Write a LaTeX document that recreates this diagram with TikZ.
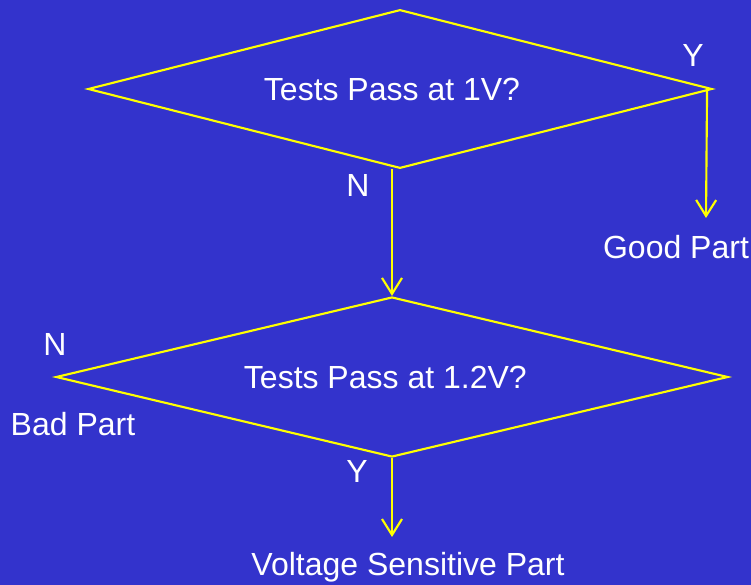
\documentclass[tikz,border=0pt]{standalone}
\usepackage{fontspec}
\setmainfont{Liberation Sans}
\usepackage{xcolor}
\usetikzlibrary{arrows.meta,calc,shapes.geometric}
\definecolor{bgblue}{RGB}{51,51,204}
\definecolor{lineyellow}{RGB}{255,255,0}

\begin{document}
\begin{tikzpicture}[
    x=0.75pt, y=-0.75pt,
    >={Straight Barb[length=12pt, width=15pt]},
    decision/.style={draw=lineyellow, line width=1.6pt, diamond, inner sep=0pt},
    flow/.style={lineyellow, line width=1.6pt, ->},
    txt/.style={text=white, font=\fontsize{24}{28}\selectfont, inner sep=0pt}
]

% Background
\fill[bgblue] (0,0) rectangle (751,585);
\useasboundingbox (0,0) rectangle (751,585);

% 1. FIRST TEST (1V)
\node[decision, aspect=3.92, minimum width=468pt, minimum height=119pt,
      label={[txt, xshift=-6pt]center:Tests Pass at 1V?}] (Q1) at (400,89) {};

% Pass branch
\coordinate (YSTART) at ($(Q1.east)+(-6,2)$);
\coordinate (GOODEND) at (706,218);
\draw[flow] (YSTART) -- (GOODEND);
\node[txt] (Y1) at (693,55) {Y};
\node[txt] (GOOD) at (676,247) {Good Part};

% Fail branch
\node[txt] (N1) at (358,185) {N};

% 2. SECOND TEST (1.2V)
\node[decision, aspect=4.2, minimum width=504pt, minimum height=120pt,
      label={[txt, xshift=-5pt]center:Tests Pass at 1.2V?}] (Q2) at (392,377) {};
\draw[flow] (Q1.south -| Q2.north) -- (Q2.north);

\node[txt] (N2) at (55,344) {N};
\node[txt] (BAD) at (73,424) {Bad Part};

% Pass branch
\coordinate (VSPEND) at (392,537);
\draw[flow] (Q2.south) -- (VSPEND);
\node[txt] (Y2) at (357,471) {Y};
\node[txt] (VSP) at (408,567) {Voltage Sensitive Part};

\end{tikzpicture}
\end{document}
